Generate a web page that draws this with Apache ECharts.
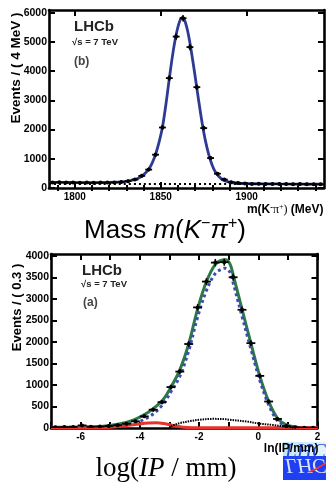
<!DOCTYPE html>
<html><head><meta charset="utf-8">
<script src="https://cdn.jsdelivr.net/npm/echarts@6/dist/echarts.min.js"></script>
<style>html,body{margin:0;padding:0;background:#fff}#c{width:326px;height:484px}</style>
</head><body><div id="c"></div>
<script>
// ---------- Top panel: m(K-pi+) ----------
const massBins = [1787,1791,1795,1799,1803,1807,1811,1815,1819,1823,1827,1831,1835,1839,1843,1847,1851,1855,1859,1863,1867,1871,1875,1879,1883,1887,1891,1895,1899,1903,1907,1911,1915,1919,1923,1927,1931,1935,1939,1943];
const massCounts = [190,195,190,185,182,185,180,185,185,190,205,235,290,415,630,1140,2070,3760,5180,5810,4820,3450,2050,1025,490,290,200,170,150,140,145,140,135,140,135,130,135,130,130,125];
const massFitX = [1785,1800,1815,1825,1830,1835,1838,1840,1843,1845,1847,1849,1851,1853,1855,1857,1859,1861,1862.5,1864,1866,1868,1870,1872,1874,1876,1878,1880,1882,1885,1888,1892,1898,1905,1920,1945];
const massFitY = [195,188,187,200,225,290,370,450,640,850,1150,1560,2080,2850,3740,4580,5250,5700,5830,5720,5280,4600,3830,3020,2260,1620,1130,770,530,330,235,180,155,145,138,133];
const massBkgX = [1785,1945];
const massBkgY = [138,132];
const massTicks = [1800,1850,1900];
const massMinorTicks = [1790,1810,1820,1830,1840,1860,1870,1880,1890,1910,1920,1930,1940];
const massYTicks = [0,1000,2000,3000,4000,5000,6000];

// ---------- Bottom panel: ln(IP/mm) ----------
const ipBins = [-6.85,-6.55,-6.25,-5.95,-5.65,-5.35,-5.05,-4.75,-4.45,-4.15,-3.85,-3.55,-3.25,-2.95,-2.65,-2.35,-2.05,-1.75,-1.45,-1.15,-0.85,-0.55,-0.25,0.05,0.35,0.65,0.95,1.25,1.55,1.85];
const ipCounts = [20,22,25,60,30,35,45,65,100,155,270,425,600,950,1310,1950,2800,3400,3840,3850,3500,2745,1970,1210,615,210,45,15,8,4];
const ipTotalX = [-7.0,-6.0,-5.4,-4.8,-4.2,-3.7,-3.25,-2.95,-2.65,-2.35,-2.05,-1.75,-1.45,-1.2,-1.1,-0.95,-0.85,-0.55,-0.25,0.05,0.35,0.65,0.95,1.25,1.6,2.0];
const ipTotalY = [15,20,30,80,190,370,630,950,1350,1950,2760,3400,3800,3900,3905,3800,3560,2760,1970,1210,620,225,75,25,8,3];
const ipSignalX = [-7.0,-6.0,-5.4,-4.8,-4.2,-3.7,-3.25,-2.95,-2.65,-2.35,-2.05,-1.75,-1.45,-1.2,-1.1,-0.95,-0.85,-0.55,-0.25,0.05,0.35,0.65,0.95,1.25,1.6,2.0];
const ipSignalY = [12,18,25,55,110,255,520,840,1200,1790,2570,3195,3590,3700,3710,3610,3375,2595,1835,1110,540,170,47,17,8,3];
const ipRedX = [-7.0,-5.5,-5.0,-4.5,-4.0,-3.7,-3.45,-3.2,-2.95,-2.7,-2.4,-2.0,-1.0,2.0];
const ipRedY = [8,10,18,50,95,115,120,105,70,35,12,8,8,8];
const ipSecX = [-2.95,-2.8,-2.65,-2.3,-1.98,-1.53,-1.2,-0.96,-0.39,0.06,0.5,0.84,1.1,1.3];
const ipSecY = [40,80,115,160,192,212,208,192,150,100,70,37,15,5];
const ipTicks = [-6,-4,-2,0,2];
const ipAllTicks = [-7,-6,-5,-4,-3,-2,-1,0,1,2];
const ipYTicks = [0,500,1000,1500,2000,2500,3000,3500,4000];

const FONT = 'Liberation Sans, Arial, Helvetica, sans-serif';
const SERIF = 'Liberation Serif, Times New Roman, serif';

function pairs(xs, ys){ return xs.map((x,i)=>[x, ys[i]]); }
const plain = v => String(v);

function xAxisDef(gi, min, max, labels, ticks, pos, showLabel, tickLen) {
  return {
    type:'value', gridIndex: gi, min, max, position: pos,
    axisLine:{show:true, onZero:false, lineStyle:{color:'#000', width:2.6}},
    axisTick:{show:true, inside:true, length: tickLen, customValues: ticks, lineStyle:{color:'#000', width:2}},
    axisLabel:{show: showLabel, customValues: labels, formatter: plain, margin: 4, color:'#000', fontSize:10, fontWeight:'bold', fontFamily: FONT},
    splitLine:{show:false}
  };
}
function yAxisDef(gi, min, max, ticks, pos, showLabel) {
  return {
    type:'value', gridIndex: gi, min, max, position: pos,
    axisLine:{show:true, onZero:false, lineStyle:{color:'#000', width:2.6}},
    axisTick:{show:true, inside:true, length:6, customValues: ticks, lineStyle:{color:'#000', width:2}},
    axisLabel:{show: showLabel, customValues: ticks, formatter: plain, margin: 2, color:'#000', fontSize:10.5, fontWeight:'bold', fontFamily: FONT},
    splitLine:{show:false}
  };
}

function pointsSeries(xi, yi, bins, counts, halfW) {
  return {
    type:'custom', xAxisIndex: xi, yAxisIndex: yi, z: 20, clip: true,
    data: pairs(bins, counts),
    renderItem(params, api) {
      const x = api.value(0), y = api.value(1);
      const c = api.coord([x, y]);
      const l = api.coord([x - halfW, y]);
      const r = api.coord([x + halfW, y]);
      const e = Math.sqrt(Math.max(y, 0));
      const t = api.coord([x, y + e]);
      const b = api.coord([x, y - e]);
      return { type:'group', children:[
        {type:'line', shape:{x1:l[0], y1:l[1], x2:r[0], y2:r[1]}, style:{stroke:'#000', lineWidth:1.8}},
        {type:'line', shape:{x1:t[0], y1:t[1]-1, x2:b[0], y2:b[1]+1}, style:{stroke:'#000', lineWidth:1.5}},
        {type:'circle', shape:{cx:c[0], cy:c[1], r:2}, style:{fill:'#000'}}
      ]};
    }
  };
}

function lineSeries(xi, yi, xs, ys, color, width, type, z) {
  return {
    type:'line', xAxisIndex: xi, yAxisIndex: yi, data: pairs(xs, ys),
    smooth: 0.35, showSymbol:false, symbol:'none', z: z, clip: true,
    lineStyle:{color, width, type, cap:'butt'}
  };
}

const chart = echarts.init(document.getElementById('c'), null, {renderer:'canvas'});
const option = {
  animation:false,
  backgroundColor:'#fff',
  grid:[
    {left:49, top:10, width:275, height:178},
    {left:51, top:254, width:266.5, height:174}
  ],
  xAxis:[
    xAxisDef(0, 1785, 1945, massTicks, massTicks, 'bottom', true, 6),
    xAxisDef(0, 1785, 1945, massTicks, massTicks, 'top', false, 6),
    xAxisDef(1, -7, 2, ipTicks, ipAllTicks, 'bottom', true, 6),
    xAxisDef(1, -7, 2, ipTicks, ipAllTicks, 'top', false, 6),
    Object.assign(xAxisDef(0, 1785, 1945, [], massMinorTicks, 'bottom', false, 3), {axisLine:{show:false}}),
    Object.assign(xAxisDef(0, 1785, 1945, [], massMinorTicks, 'top', false, 3), {axisLine:{show:false}})
  ],
  yAxis:[
    yAxisDef(0, 0, 6090, massYTicks, 'left', true),
    yAxisDef(0, 0, 6090, massYTicks, 'right', false),
    yAxisDef(1, 0, 4040, ipYTicks, 'left', true),
    yAxisDef(1, 0, 4040, ipYTicks, 'right', false)
  ],
  series:[
    lineSeries(0, 0, massFitX, massFitY, '#2E3A94', 2.8, 'solid', 3),
    lineSeries(0, 0, massBkgX, massBkgY, '#000', 2, [2,3], 4),
    pointsSeries(0, 0, massBins, massCounts, 2),
    lineSeries(2, 2, ipTotalX, ipTotalY, '#2C7A45', 3, 'solid', 3),
    lineSeries(2, 2, ipSignalX, ipSignalY, '#3B4DB3', 3, [3,3], 4),
    lineSeries(2, 2, ipRedX, ipRedY, '#E8322B', 3, 'solid', 5),
    lineSeries(2, 2, ipSecX, ipSecY, '#000', 2, [1.5,1], 5),
    pointsSeries(2, 2, ipBins, ipCounts, 0.15)
  ],
  graphic:[
    // LHCb logo (bottom-right corner), drawn first so the axis title sits on top
    {type:'rect', z:1, shape:{x:283, y:442, width:43, height:14}, style:{fill:{type:'linear', x:0, y:0, x2:1, y2:0, colorStops:[{offset:0, color:'#bfe6f7'},{offset:1, color:'#e4f4fc'}]}}},
    {type:'rect', z:1, shape:{x:283, y:456, width:43, height:24}, style:{fill:'#1f3ff2'}},
    {type:'text', z:2, x:285, y:452, style:{text:'LHCb', fontSize:21, fontStyle:'italic', fontFamily:SERIF, fill:'#2b4fd6', verticalAlign:'middle'}},
    {type:'text', z:2, x:285, y:465, scaleY:-1, style:{text:'LHCb', fontSize:21, fontStyle:'italic', fontFamily:SERIF, fill:'#d9e4ff', verticalAlign:'middle'}},
    {type:'polyline', z:3, shape:{points:[[309,472],[316,469],[326,463]]}, style:{stroke:'#ff3030', lineWidth:1.5, fill:null}},
    // top panel annotations
    {type:'text', z:10, x:74, y:26.5, style:{text:'LHCb', fontSize:15, fontWeight:'bold', fontFamily:FONT, fill:'#222', verticalAlign:'middle'}},
    {type:'text', z:10, x:72, y:42.7, style:{text:'\u221As = 7 TeV', fontSize:9.5, fontWeight:'bold', fontFamily:FONT, fill:'#222', verticalAlign:'middle'}},
    {type:'text', z:10, x:74, y:62, style:{text:'(b)', fontSize:12, fontWeight:'bold', fontFamily:FONT, fill:'#444', verticalAlign:'middle'}},
    {type:'text', z:10, x:16.5, y:68, rotation:Math.PI/2, style:{text:'Events / ( 4 MeV )', fontSize:13.5, fontWeight:'bold', fontFamily:FONT, fill:'#000', align:'center', verticalAlign:'middle'}},
    {type:'text', z:10, x:323.5, y:210, style:{
      text:'{b|m(K}{s|-}{p|\u03C0}{s2|+}{p|)}{b| (MeV)}', align:'right', verticalAlign:'middle',
      rich:{
        b:{fontSize:12, fontWeight:'bold', fontFamily:FONT, fill:'#000', lineHeight:14},
        s:{fontSize:8, fontWeight:'bold', fontFamily:FONT, fill:'#000', verticalAlign:'top', lineHeight:8},
        s2:{fontSize:8, fontFamily:SERIF, fill:'#000', verticalAlign:'top', lineHeight:8},
        p:{fontSize:12, fontFamily:SERIF, fill:'#000', lineHeight:14}
      }}},
    {type:'text', z:10, x:165, y:231, style:{
      text:'{a|Mass }{i|m}{a|(}{i|K}{s|\u2212}{i|\u03C0}{s|+}{a|)}', align:'center', verticalAlign:'middle',
      rich:{
        a:{fontSize:26, fontFamily:FONT, fill:'#000', lineHeight:31},
        i:{fontSize:26, fontStyle:'italic', fontFamily:FONT, fill:'#000', lineHeight:31},
        s:{fontSize:16, fontFamily:FONT, fill:'#000', verticalAlign:'top', lineHeight:16}
      }}},
    // bottom panel annotations
    {type:'text', z:10, x:82, y:270.5, style:{text:'LHCb', fontSize:15, fontWeight:'bold', fontFamily:FONT, fill:'#222', verticalAlign:'middle'}},
    {type:'text', z:10, x:81, y:284.7, style:{text:'\u221As = 7 TeV', fontSize:9.5, fontWeight:'bold', fontFamily:FONT, fill:'#222', verticalAlign:'middle'}},
    {type:'text', z:10, x:83, y:303, style:{text:'(a)', fontSize:12, fontWeight:'bold', fontFamily:FONT, fill:'#444', verticalAlign:'middle'}},
    {type:'text', z:10, x:17, y:307.5, rotation:Math.PI/2, style:{text:'Events / ( 0.3 )', fontSize:13, fontWeight:'bold', fontFamily:FONT, fill:'#000', align:'center', verticalAlign:'middle'}},
    {type:'text', z:10, x:318.5, y:449, style:{text:'ln(IP/mm)', fontSize:12, fontWeight:'bold', fontFamily:FONT, fill:'#000', align:'right', verticalAlign:'middle'}},
    {type:'text', z:10, x:166, y:469, style:{
      text:'{a|log(}{i|IP}{a| / mm)}', align:'center', verticalAlign:'middle',
      rich:{
        a:{fontSize:27, fontFamily:SERIF, fill:'#000'},
        i:{fontSize:27, fontStyle:'italic', fontFamily:SERIF, fill:'#000'}
      }}}
  ]
};
chart.setOption(option);
</script>
</body></html>
